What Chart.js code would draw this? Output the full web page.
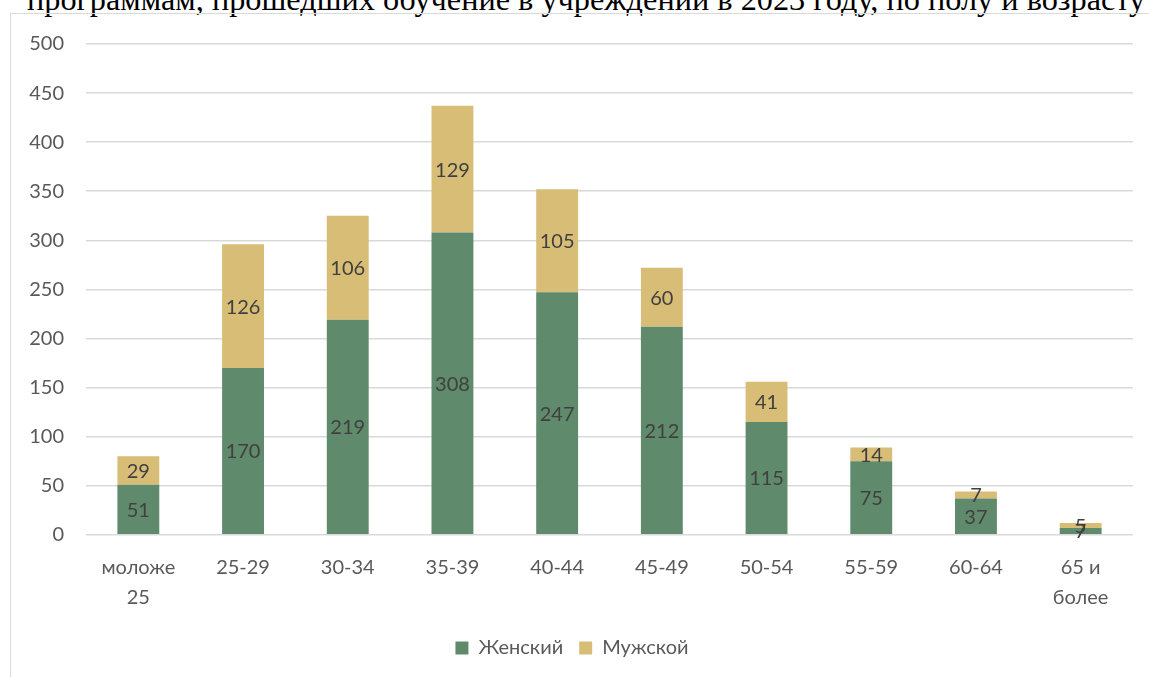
<!DOCTYPE html>
<html>
<head>
<meta charset="utf-8">
<script src="https://cdn.jsdelivr.net/npm/chart.js@4.4.1/dist/chart.umd.min.js"></script>
<style>
  html, body { margin: 0; padding: 0; background: #fff; overflow: hidden; }
  body { width: 1149px; height: 677px; position: relative; }
  #title {
    position: absolute; left: 27px; top: -17px;
    font: 32.3px/32px "Liberation Serif", "Times New Roman", serif;
    color: #000; white-space: nowrap;
  }
  #frame {
    position: absolute; left: 10px; top: 13px; width: 1160px; height: 700px;
    border: 1px solid #d9d9d9; box-sizing: border-box;
  }
  #wrap { position: absolute; left: 11px; top: 14px; width: 1138px; height: 663px; }
</style>
</head>
<body>
<div id="title">программам, прошедших обучение в учреждении в 2023 году, по полу и возрасту</div>
<div id="frame"></div>
<div id="wrap"><canvas id="chart"></canvas></div>
<script>
// Age groups and counts
const ageGroups = [['моложе', '25'], '25-29', '30-34', '35-39', '40-44', '45-49', '50-54', '55-59', '60-64', ['65 и', 'более']];
const female = [51, 170, 219, 308, 247, 212, 115, 75, 37, 7];
const male = [29, 126, 106, 129, 105, 60, 41, 14, 7, 5];
const yTicks = [0, 50, 100, 150, 200, 250, 300, 350, 400, 450, 500];

const FONT = 'Lato, "Open Sans", sans-serif';

// draws the value in the middle of each bar segment
const barLabels = {
    id: 'barLabels',
    afterDatasetsDraw(chart) {
        const ctx = chart.ctx;
        ctx.save();
        ctx.font = '20px ' + FONT;
        ctx.fillStyle = '#404040';
        ctx.textAlign = 'center';
        ctx.textBaseline = 'middle';
        chart.data.datasets.forEach((ds, i) => {
            chart.getDatasetMeta(i).data.forEach((bar, j) => {
                ctx.fillText(String(ds.data[j]), bar.x, (bar.y + bar.base) / 2 + 1);
            });
        });
        ctx.restore();
    }
};

new Chart(document.getElementById('chart'), {
    type: 'bar',
    data: {
        labels: ageGroups,
        datasets: [
            { label: 'Женский', data: female, backgroundColor: '#5f8a6b' },
            { label: 'Мужской', data: male, backgroundColor: '#d8bd77' }
        ]
    },
    options: {
        responsive: true,
        maintainAspectRatio: false,
        animation: false,
        categoryPercentage: 1,
        barPercentage: 0.4,
        layout: { padding: { top: 30, right: 16, left: 0, bottom: 9 } },
        scales: {
            x: {
                stacked: true,
                grid: { display: false },
                border: { display: false },
                ticks: { color: '#595959', font: { family: FONT, size: 20, lineHeight: 1.48 }, padding: 10, maxRotation: 0, autoSkip: false }
            },
            y: {
                stacked: true,
                min: 0,
                max: 500,
                afterBuildTicks: scale => { scale.ticks = yTicks.map(v => ({ value: v })); },
                afterFit: scale => { scale.width = 75; },
                grid: { color: '#d9d9d9', lineWidth: 1.5, drawTicks: false },
                border: { display: false },
                ticks: { color: '#595959', font: { family: FONT, size: 20, lineHeight: 0.5 }, padding: 22 }
            }
        },
        plugins: {
            legend: {
                position: 'bottom',
                labels: { color: '#595959', font: { family: FONT, size: 20 }, boxWidth: 13, boxHeight: 13, padding: 16 }
            },
            tooltip: { enabled: false }
        }
    },
    plugins: [barLabels]
});
</script>
</body>
</html>
